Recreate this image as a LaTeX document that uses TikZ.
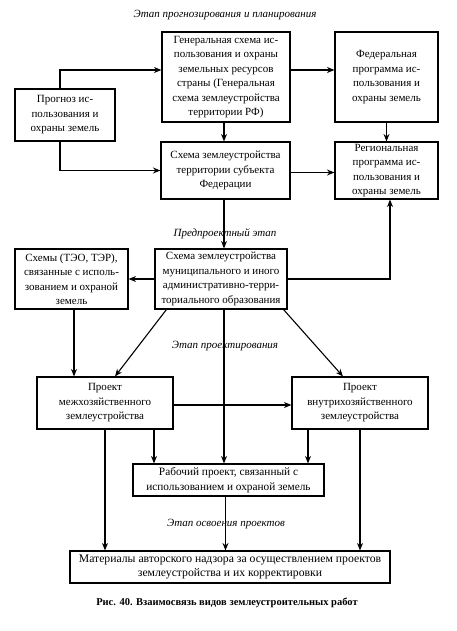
\documentclass[tikz,border=0pt]{standalone}
\usepackage{fontspec}
\setmainfont{Liberation Serif}
\usetikzlibrary{arrows.meta}
\begin{document}
\begin{tikzpicture}[x=1pt,y=-1pt,
  box/.style={draw,line width=1.1pt,align=center,inner sep=0pt,font=\fontsize{11}{14.5}\selectfont},
  stage/.style={font=\fontsize{11}{13}\itshape\selectfont,inner sep=1pt},
  arr/.style={line width=1.1pt,-{Stealth[length=7.5pt,width=6pt]}},
  ln/.style={line width=1.1pt}]
\useasboundingbox (0,0) rectangle (457,631);
\node[stage] (t1) at (225,15) {Этап прогнозирования и планирования};
\node[box,minimum width=128,minimum height=90] (gen) at (226,77) {Генеральная схема ис-\\пользования и охраны\\земельных ресурсов\\страны (Генеральная\\схема землеустройства\\территории РФ)};
\node[box,minimum width=103,minimum height=90] (fed) at (386.5,77) {Федеральная\\программа ис-\\пользования и\\охраны земель};
\node[box,minimum width=100,minimum height=52] (prog) at (65,115) {Прогноз ис-\\пользования и\\охраны земель};
\node[box,minimum width=129,minimum height=57] (subj) at (225.5,170.5) {Схема землеустройства\\территории субъекта\\Федерации};
\node[box,minimum width=103,minimum height=57] (reg) at (386.5,170.5) {Региональная\\программа ис-\\пользования и\\охраны земель};
\node[stage] (t2) at (225,234) {Предпроектный этап};
\node[box,minimum width=132,minimum height=60] (mun) at (221,279) {Схема землеустройства\\муниципального и иного\\административно-терри-\\ториального образования};
\node[box,minimum width=113,minimum height=60] (teo) at (71.5,279) {Схемы (ТЭО, ТЭР),\\связанные с исполь-\\зованием и охраной\\земель};
\node[stage] (t3) at (225,346) {Этап проектирования};
\node[box,minimum width=136,minimum height=52] (mezh) at (105,403) {Проект\\межхозяйственного\\землеустройства};
\node[box,minimum width=136,minimum height=52] (vnut) at (360,403) {Проект\\внутрихозяйственного\\землеустройства};
\node[box,minimum width=191,minimum height=32,font=\fontsize{11.3}{14.5}\selectfont] (rab) at (228.5,480) {Рабочий проект, связанный с\\использованием и охраной земель};
\node[stage] (t4) at (226,524) {Этап освоения проектов};
\node[box,minimum width=320,minimum height=32,font=\fontsize{11.7}{14.5}\selectfont] (mat) at (230,567) {Материалы авторского надзора за осуществлением проектов\\землеустройства и их корректировки};
\node[font=\fontsize{10.5}{12}\bfseries\selectfont] (cap) at (227,603) {Рис. 40. Взаимосвязь видов землеустроительных работ};
% connectors
\draw[arr] ([xshift=-5pt]prog.north) |- ([yshift=7pt]gen.west);
\draw[arr] ([xshift=-5pt]prog.south) |- (subj.west);
\draw[arr] ([yshift=7pt]gen.east) -- ([yshift=7pt]fed.west);
\draw[arr] ([xshift=-2pt]gen.south) -- ([xshift=-2pt]gen.south |- subj.north);
\draw[arr] (fed.south) -- (reg.north);
\draw[arr] ([yshift=-2pt]subj.east) -- ([yshift=-2pt]subj.east -| reg.west);
\draw[arr] ([xshift=-1.5pt]subj.south) -- ([xshift=-1.5pt]subj.south |- mun.north);
\draw[arr] (mun.east) -| ([xshift=3.5pt]reg.south);
\draw[arr] (mun.west) -- (teo.east);
\draw[arr] ([xshift=2.5pt]teo.south) -- ([xshift=2.5pt]teo.south |- mezh.north);
\draw[arr] ([xshift=12pt]mun.south west) -- ([xshift=10pt]mezh.north);
\draw[arr] ([xshift=-4pt]mun.south east) -- ([xshift=-17pt]vnut.north);
\draw[arr] ([yshift=-2pt]mezh.east) -- ([yshift=-2pt]mezh.east -| vnut.west);
\draw[arr] ([xshift=3pt]mun.south) -- ([xshift=3pt]mun.south |- rab.north);
\draw[arr] ([xshift=49pt]mezh.south) -- ([xshift=49pt]mezh.south |- rab.north);
\draw[arr] ([xshift=-52pt]vnut.south) -- ([xshift=-52pt]vnut.south |- rab.north);
\draw[arr] (mezh.south) -- (mezh.south |- mat.north);
\draw[arr] ([xshift=-3pt]rab.south) -- ([xshift=-3pt]rab.south |- mat.north);
\draw[arr] (vnut.south) -- (vnut.south |- mat.north);
\end{tikzpicture}
\end{document}
